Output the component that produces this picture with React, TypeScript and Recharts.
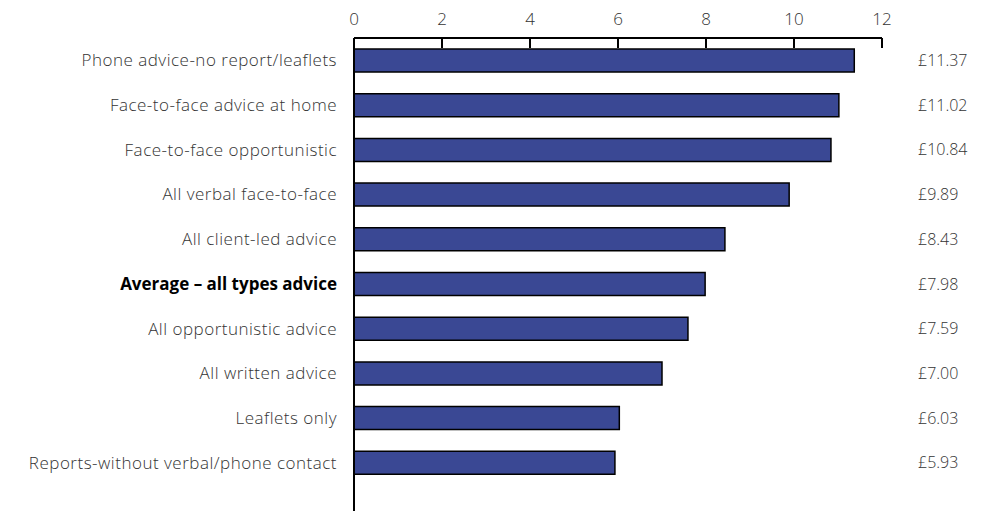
import { BarChart, Bar, XAxis, YAxis } from 'recharts';

const categories = [
  'Phone advice-no report/leaflets',
  'Face-to-face advice at home',
  'Face-to-face opportunistic',
  'All verbal face-to-face',
  'All client-led advice',
  'Average – all types advice',
  'All opportunistic advice',
  'All written advice',
  'Leaflets only',
  'Reports-without verbal/phone contact',
];
const costs = [11.37, 11.02, 10.84, 9.89, 8.43, 7.98, 7.59, 7.0, 6.03, 5.93];
const xTicks = [0, 2, 4, 6, 8, 10, 12];
const highlighted = 'Average – all types advice';

const data = categories.map((name, i) => ({ name, cost: costs[i] }));

const FONT = '"Open Sans", Lato, sans-serif';

const LeftTick = (props: any) => {
  const { x, y, payload } = props;
  const bold = payload.value === highlighted;
  return (
    <text x={x} y={y} dy="0.35em" textAnchor="end" fontFamily={FONT}
      fontSize={17} letterSpacing={bold ? 0 : 0.5}
      fill={bold ? '#000' : '#333'} fontWeight={bold ? 700 : 300}>
      {payload.value}
    </text>
  );
};

export default function App() {
  return (
    <div style={{ position: 'absolute', left: 0, top: 0 }}>
      <BarChart width={1002} height={511} data={data} layout="vertical"
        margin={{ top: 0, right: 0, bottom: 0, left: 0 }}>
        <XAxis type="number" orientation="top" domain={[0, 12]} ticks={xTicks}
          height={38} interval={0} stroke="#000" strokeWidth={2}
          tickSize={-10} tickMargin={23}
          tick={{ fill: '#333', fontSize: 17, fontFamily: FONT, fontWeight: 300 }} />
        <YAxis yAxisId="left" type="category" dataKey="name" width={354}
          stroke="#000" strokeWidth={2} tickLine={false} tickSize={0} tickMargin={17}
          padding={{ top: 0, bottom: 26 }} interval={0} tick={<LeftTick />} />
        <YAxis yAxisId="right" orientation="right" type="category" dataKey="name" width={120}
          axisLine={false} tickLine={false} tickSize={0} tickMargin={36}
          padding={{ top: 0, bottom: 26 }} interval={0}
          tickFormatter={(_v: string, i: number) => '£' + costs[i].toFixed(2)}
          tick={{ fill: '#333', fontSize: 16, fontFamily: FONT, fontWeight: 300 }} />
        <Bar yAxisId="left" dataKey="cost" fill="#3a4894" stroke="#000" strokeWidth={1.5}
          barSize={23} isAnimationActive={false} />
      </BarChart>
    </div>
  );
}
